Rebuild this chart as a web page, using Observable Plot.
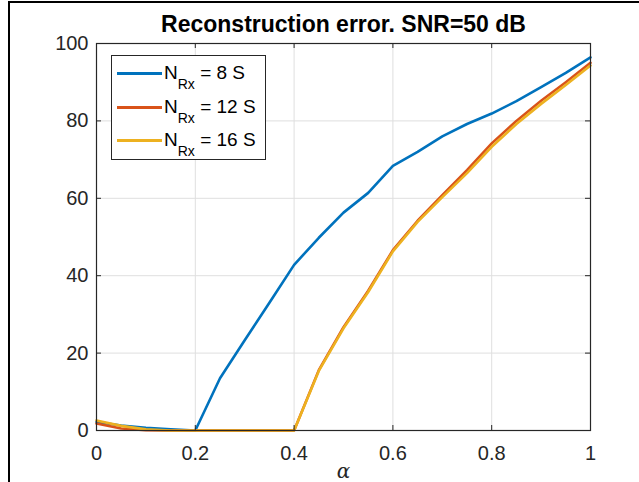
<!DOCTYPE html>
<html><head><meta charset="utf-8">
<script src="https://cdn.jsdelivr.net/npm/d3@7"></script>
<script src="https://cdn.jsdelivr.net/npm/@observablehq/plot@0.6"></script>
<style>
body{margin:0;background:#fff;}
#wrap{position:relative;width:639px;height:482px;overflow:hidden;font-family:"Liberation Sans",Arial,sans-serif;}
#chart{position:absolute;left:0;top:0;}
#border{position:absolute;left:8px;top:1px;right:-10px;bottom:-10px;border-top:2px solid #000;border-left:2px solid #000;pointer-events:none;}
#legend{position:absolute;left:111px;top:55px;width:153px;height:103px;border:1px solid #262626;background:#fff;}
.row{position:absolute;left:5px;height:20px;display:flex;align-items:center;white-space:nowrap;}
.sw{width:45px;height:3px;}
.lt{margin-left:2px;font-size:19px;line-height:20px;color:#000;}
.sub{position:relative;top:10.5px;font-size:14px;}
</style>
</head><body>
<div id="wrap"><div id="chart"></div><div id="legend"></div><div id="border"></div></div>
<script>
const alpha = [0,0.05,0.1,0.15,0.2,0.25,0.3,0.35,0.4,0.45,0.5,0.55,0.6,0.65,0.7,0.75,0.8,0.85,0.9,0.95,1];
const errN8  = [2.2,1.3,0.7,0.3,0,13.5,23.3,33,42.8,49.8,56.3,61.4,68.4,72,76,79.2,81.9,85.1,88.7,92.4,96.4];
const errN12 = [1.8,0.5,0.1,0,0,0,0,0,0,15.6,26.7,36.1,46.6,54.2,60.8,67.3,74.2,80,85.2,90,95];
const errN16 = [2.6,1.2,0.3,0,0,0,0,0,0,15.4,26.4,35.8,46.3,53.9,60.3,66.5,73.3,79.2,84.4,89.3,94.3];
const seriesLabels = ["8","12","16"];
const seriesColors = ["#0072BD","#D95319","#EDB120"];
const xTicks = [0,0.2,0.4,0.6,0.8,1];
const yTicks = [0,20,40,60,80,100];
const titleText = "Reconstruction error. SNR=50 dB";
const xLabel = "α";

const allSeries = [errN8, errN12, errN16];
const data = [];
allSeries.forEach((vals, i) => vals.forEach((v, j) => data.push({alpha: alpha[j], err: v, series: seriesLabels[i]})));

const axisColor = "#262626";
const gridColor = "#dfdfdf";
const chart = Plot.plot({
  width: 639, height: 482,
  marginLeft: 96, marginRight: 49, marginTop: 43, marginBottom: 52,
  x: {domain: [0, 1]},
  y: {domain: [0, 100]},
  color: {domain: seriesLabels, range: seriesColors},
  style: {fontFamily: "'Liberation Sans', Arial, sans-serif", fontSize: "20px", color: axisColor, background: "transparent", overflow: "visible"},
  marks: [
    Plot.gridX(xTicks, {stroke: gridColor, strokeOpacity: 1}),
    Plot.gridY(yTicks, {stroke: gridColor, strokeOpacity: 1}),
    Plot.line(data, {x: "alpha", y: "err", z: "series", stroke: "series", strokeWidth: 2.6}),
    Plot.frame({stroke: axisColor, strokeWidth: 1.2}),
    Plot.tickX(xTicks, {x: d => d, insetTop: 382, stroke: axisColor}),
    Plot.tickX(xTicks, {x: d => d, insetBottom: 382, stroke: axisColor}),
    Plot.tickY(yTicks, {y: d => d, insetRight: 489, stroke: axisColor}),
    Plot.tickY(yTicks, {y: d => d, insetLeft: 489, stroke: axisColor}),
    Plot.axisX(xTicks, {tickSize: 0, tickPadding: 15, label: null, tickFormat: d => String(d), fill: axisColor}),
    Plot.axisY(yTicks, {tickSize: 0, tickPadding: 8, label: null, tickFormat: d => String(d), fill: axisColor}),
    Plot.text([titleText], {frameAnchor: "top", lineAnchor: "middle", dy: -19, fontSize: 23, fontWeight: "bold", fill: "#000"}),
    Plot.text([xLabel], {frameAnchor: "bottom", lineAnchor: "middle", dy: 41.5, fontSize: 20, fontStyle: "italic", fontFamily: "'DejaVu Serif', serif", fill: axisColor})
  ]
});
document.getElementById("chart").appendChild(chart);

const legend = document.getElementById("legend");
const rowTops = [7, 41, 74];
seriesLabels.forEach((s, i) => {
  const row = document.createElement("div");
  row.className = "row";
  row.style.top = rowTops[i] + "px";
  row.innerHTML = `<div class="sw" style="background:${seriesColors[i]}"></div><span class="lt">N<span class="sub">Rx</span> = ${s} S</span>`;
  legend.appendChild(row);
});
</script>
</body></html>
